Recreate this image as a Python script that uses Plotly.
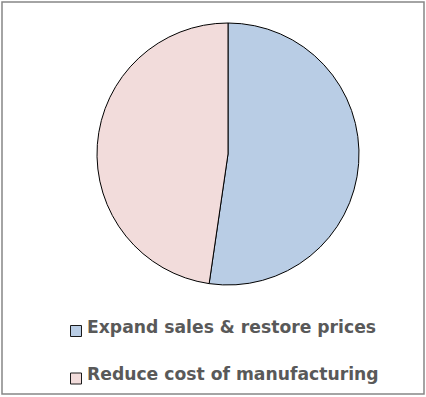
import plotly.graph_objects as go

# Share of responses for each strategy
labels = ["Expand sales & restore prices", "Reduce cost of manufacturing"]
values = [52.3, 47.7]
colors = ["#B9CDE5", "#F2DCDB"]

W, H = 426, 397

fig = go.Figure(
    go.Pie(
        labels=labels,
        values=values,
        sort=False,
        direction="clockwise",
        rotation=0,
        textinfo="none",
        hoverinfo="label+percent",
        marker=dict(colors=colors, line=dict(color="#000000", width=1)),
        domain=dict(x=[97 / W, 359 / W], y=[1 - 285 / H, 1 - 23 / H]),
        showlegend=False,
    )
)


def px_x(v):
    return v / W


def px_y(v):
    return 1 - v / H


# Legend: a swatch and a bold label per slice, stacked vertically
shapes = [
    dict(
        type="rect", xref="paper", yref="paper",
        x0=px_x(2), x1=px_x(424), y0=px_y(394), y1=px_y(2),
        line=dict(color="#868686", width=1.5), fillcolor="rgba(0,0,0,0)",
    )
]
annotations = []
row_top, row_step = 325, 47.5
for i, (lab, col) in enumerate(zip(labels, colors)):
    top = row_top + i * row_step
    shapes.append(
        dict(
            type="rect", xref="paper", yref="paper",
            x0=px_x(70.5), x1=px_x(81.5), y0=px_y(top + 11.5), y1=px_y(top + 0.5),
            line=dict(color="#1a1a1a", width=1), fillcolor=col,
        )
    )
    annotations.append(
        dict(
            text=lab, xref="paper", yref="paper",
            x=px_x(85), y=px_y(top + 1.5), xanchor="left", yanchor="middle",
            showarrow=False,
            font=dict(family="DejaVu Sans, Verdana, sans-serif", size=17.2,
                      color="#595959", weight="bold"),
        )
    )

fig.update_layout(
    width=W,
    height=H,
    margin=dict(l=0, r=0, t=0, b=0),
    paper_bgcolor="white",
    plot_bgcolor="white",
    showlegend=False,
    shapes=shapes,
    annotations=annotations,
)

fig.write_html("out.html")
